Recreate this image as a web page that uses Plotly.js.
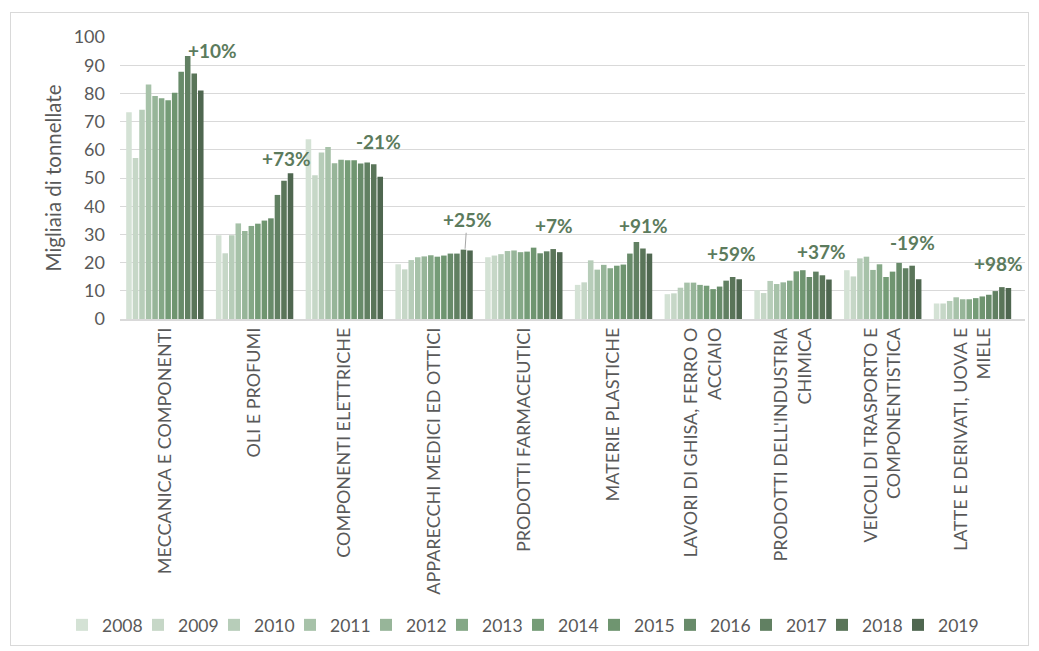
<!DOCTYPE html>
<html>
<head>
<meta charset="utf-8">
<script src="https://cdn.plot.ly/plotly-3.0.1.min.js"></script>
<style>
  html, body { margin: 0; padding: 0; background: #ffffff; }
  #frame { position: absolute; left: 10px; top: 12px; width: 1019px; height: 634px; border: 1px solid #d9d9d9; box-sizing: border-box; }
  #chart { position: absolute; left: 0; top: 0; width: 1039px; height: 651px; }
</style>
</head>
<body>
<div id="frame"></div>
<div id="chart"></div>
<script>
// ---- data ----
var categories = [
  'MECCANICA E COMPONENTI',
  'OLI E PROFUMI',
  'COMPONENTI ELETTRICHE',
  'APPARECCHI MEDICI ED OTTICI',
  'PRODOTTI FARMACEUTICI',
  'MATERIE PLASTICHE',
  'LAVORI DI GHISA, FERRO O<br>ACCIAIO',
  "PRODOTTI DELL'INDUSTRIA<br>CHIMICA",
  'VEICOLI DI TRASPORTO E<br>COMPONENTISTICA',
  'LATTE E DERIVATI, UOVA E<br>MIELE'
];
var years = ['2008','2009','2010','2011','2012','2013','2014','2015','2016','2017','2018','2019'];

var v2008 = [73.3, 29.7, 63.7, 19.4, 21.9, 12.1,  8.8, 10.2, 17.3,  5.5];
var v2009 = [57.1, 23.3, 51.0, 17.6, 22.5, 13.0,  9.1,  9.2, 15.1,  5.5];
var v2010 = [74.2, 29.7, 59.0, 20.9, 23.0, 20.8, 11.1, 13.5, 21.5,  6.4];
var v2011 = [83.2, 33.9, 61.0, 21.9, 24.1, 17.5, 12.9, 12.4, 22.1,  7.7];
var v2012 = [79.1, 31.2, 55.2, 22.2, 24.3, 19.2, 12.9, 13.0, 17.4,  7.0];
var v2013 = [78.3, 33.0, 56.5, 22.6, 23.7, 18.0, 12.1, 13.6, 19.4,  7.0];
var v2014 = [77.6, 33.8, 56.3, 22.1, 23.9, 18.9, 11.8, 16.9, 14.9,  7.4];
var v2015 = [80.2, 34.9, 56.3, 22.5, 25.3, 19.3, 10.6, 17.3, 16.8,  8.0];
var v2016 = [87.7, 35.7, 55.1, 23.2, 23.3, 23.2, 11.5, 14.9, 19.9,  8.6];
var v2017 = [93.3, 44.0, 55.5, 23.2, 24.0, 27.3, 13.6, 16.8, 18.0,  9.9];
var v2018 = [87.1, 49.0, 54.9, 24.6, 24.8, 25.0, 14.9, 15.5, 18.9, 11.3];
var v2019 = [81.0, 51.7, 50.4, 24.3, 23.7, 23.2, 14.1, 14.0, 14.1, 11.0];

var changeLabels = ['+10%','+73%','-21%','+25%','+7%','+91%','+59%','+37%','-19%','+98%'];

// ---- styling ----
var colors = ['#d4e2d5','#c6d7c7','#b7cdb9','#a7c2a9','#97b599','#85a887',
              '#759c77','#6f9570','#688b6a','#618062','#5a7559','#4f6750'];
var seriesValues = [v2008, v2009, v2010, v2011, v2012, v2013, v2014, v2015, v2016, v2017, v2018, v2019];

var FONT = 'Lato, "Open Sans", sans-serif';
var GREY = '#595959';
var LABEL_GREEN = '#5c7b5d';

var traces = years.map(function (yr, i) {
  return {
    type: 'bar',
    name: yr,
    x: categories,
    y: seriesValues[i],
    marker: { color: colors[i], line: { width: 0 } },
    hoverinfo: 'x+y+name'
  };
});
// empty, invisible legend spacer so the last legend label is not clipped
traces.push({
  type: 'scatter', mode: 'none', name: '', x: [categories[0]], y: [null],
  showlegend: true, hoverinfo: 'skip'
});

// label placement (pixel offsets from category centre, y in data units for text centre)
var labelXShift = [48, 32, 34, 33, 30, 30, 28, 28, 30, 26];
var labelYPos   = [95.3, 57.0, 62.8, 35.4, 33.2, 33.2, 23.2, 23.8, 27.1, 19.6];

var annotations = changeLabels.map(function (t, i) {
  if (i === 3) {
    return {
      x: i, y: v2018[i] + 0.3, xref: 'x', yref: 'y', xshift: 31,
      text: t, showarrow: true, arrowhead: 0, arrowwidth: 1, arrowcolor: '#a6a6a6',
      ax: 2, ay: -29, standoff: 0,
      font: { family: FONT, size: 19, color: LABEL_GREEN, weight: 'bold' }
    };
  }
  return {
    x: i, y: labelYPos[i], xref: 'x', yref: 'y', xshift: labelXShift[i],
    text: t, showarrow: false, xanchor: 'center', yanchor: 'middle',
    font: { family: FONT, size: 19, color: LABEL_GREEN, weight: 'bold' }
  };
});

var layout = {
  width: 1039, height: 651,
  margin: { l: 120, r: 14, t: 37, b: 332, autoexpand: false },
  paper_bgcolor: 'rgba(0,0,0,0)',
  plot_bgcolor: 'rgba(0,0,0,0)',
  barmode: 'group',
  bargap: 0.127,
  bargroupgap: 0.15,
  font: { family: FONT, color: GREY },
  showlegend: true,
  legend: {
    orientation: 'h',
    xref: 'paper', yref: 'paper',
    x: -0.0729, xanchor: 'left', y: -1.085, yanchor: 'middle',
    font: { family: FONT, size: 17.5, color: GREY },
    bgcolor: 'rgba(0,0,0,0)', bordercolor: 'rgba(0,0,0,0)', borderwidth: 8,
    entrywidth: 31, itemclick: false, traceorder: 'normal'
  },
  xaxis: {
    type: 'category',
    tickangle: -90,
    tickfont: { family: FONT, size: 18, color: GREY },
    showline: true, linecolor: '#d9d9d9', linewidth: 1.5,
    ticks: '', showgrid: false, automargin: false
  },
  yaxis: {
    range: [0, 100], dtick: 10, tick0: 0,
    tickfont: { family: FONT, size: 18, color: GREY },
    showgrid: true, gridcolor: '#d9d9d9', gridwidth: 1,
    zeroline: false, showline: false, ticks: '',
    ticklabelstandoff: 14,
    automargin: false,
    title: { text: 'Migliaia di tonnellate', font: { family: FONT, size: 20.5, color: GREY }, standoff: 6 }
  },
  annotations: annotations
};

Plotly.newPlot('chart', traces, layout, { displayModeBar: false, staticPlot: true });
</script>
</body>
</html>
